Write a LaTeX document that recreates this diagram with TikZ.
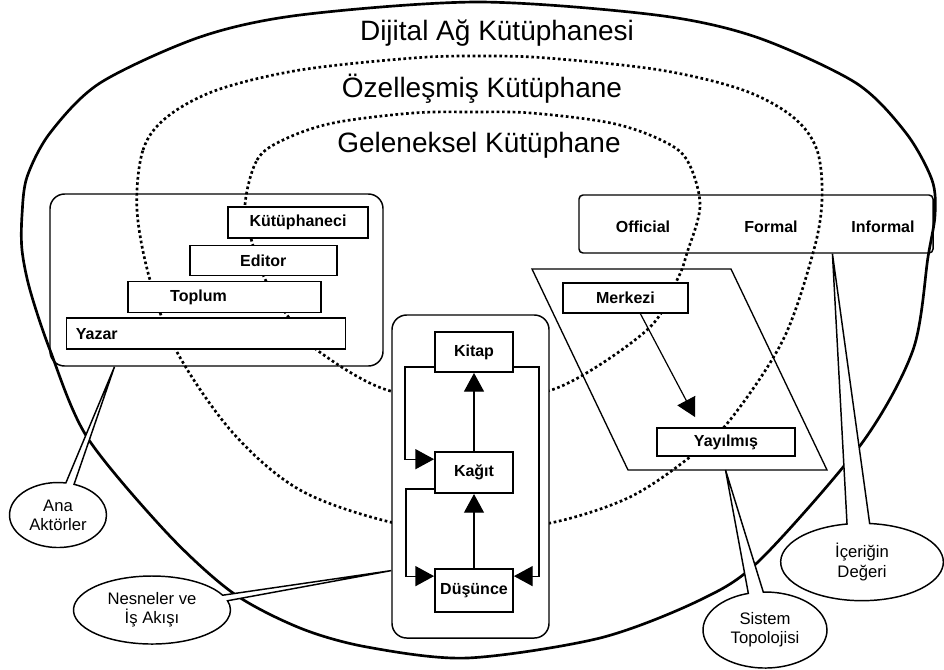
\documentclass[tikz,border=0pt]{standalone}
\usepackage{fontspec}
\setmainfont{Liberation Sans}
\usetikzlibrary{positioning,calc,arrows.meta,shapes.callouts}

\tikzset{
  kutu/.style={draw, line width=1.4pt, fill=white, inner sep=0pt, font=\fontsize{12}{14}\selectfont\bfseries},
  grup/.style={draw, line width=1.1pt, rounded corners=11pt, inner sep=0pt},
  etiket/.style={font=\fontsize{12}{14}\selectfont\bfseries},
  baslik/.style={font=\fontsize{21}{24}\selectfont},
  balon/.style={ellipse callout, draw, line width=1.1pt, fill=white, align=center, inner sep=0pt, font=\fontsize{12.5}{14.5}\selectfont},
  halka/.style={line width=2pt, dash pattern=on 2pt off 2pt},
  akis/.style={line width=0.9pt, -{Triangle[length=14pt,width=15pt]}},
}

\begin{document}
\begin{tikzpicture}[x=0.75pt, y=-0.75pt]
    \useasboundingbox (0,0) rectangle (944,669);

    \draw [line width=2pt] plot [smooth cycle, tension=0.5] coordinates {
        (22,215) (27,177) (50,133) (100,83) (200,37) (300,15) (478,2) (656,15) (756,37) (856,83) (906,133)
        (932,180) (935,215) (928,257) (913,350) (862,443) (760,560) (700,600) (600,638) (467,658) (367,647)
        (300,628) (233,593) (167,533) (87,437) (50,350) (30,290) (22,250)};

    \draw [halka] plot [smooth cycle, tension=0.55] coordinates {
        (137,210) (143,150) (167,117) (217,90) (300,70) (413,58) (480,56) (547,58) (660,70) (743,90)
        (793,117) (817,150) (822,200) (813,253) (783,340) (730,420) (690,457) (630,497) (555,522)
        (472,532) (390,522) (300,490) (233,433) (177,352) (150,280)};

    \draw [halka] plot [smooth cycle, tension=0.55] coordinates {
        (245,205) (257,160) (283,140) (333,123) (413,113) (472,112) (531,113) (611,123) (661,140)
        (687,160) (700,205) (687,253) (677,280) (647,330) (557,388) (472,398) (387,390) (317,350)
        (287,315) (265,279) (252,242)};

    \node [baslik] (dijital)    at (497,33)  {Dijital Ağ Kütüphanesi};
    \node [baslik] (ozel)       at (482,89)  {Özelleşmiş Kütüphane};
    \node [baslik] (geleneksel) at (479,145) {Geleneksel Kütüphane};

    \node [grup] [minimum width=249.75pt] [minimum height=129pt] (aktorler) at (216.5,280) {};

    \node [kutu] [minimum width=105pt] [minimum height=23.25pt] (kutuphaneci) at (298,222.5) {Kütüphaneci};
    \node [kutu] [minimum width=110.25pt] [minimum height=22.5pt] [below of=kutuphaneci] [xshift=-26] (editor) {Editor};
    \node [kutu] [minimum width=144.75pt] [minimum height=23.25pt] [below of=editor] [xshift=-29] [yshift=1]
          [text width=81.75pt] [align=left] (toplum) {Toplum};
    \node [kutu] [minimum width=209.25pt] [minimum height=23.25pt] [below of=toplum] [xshift=-14] [yshift=1]
          [text width=195.25pt] [align=left] (yazar) {Yazar};

    \node [grup] [fill=white] [minimum width=117.75pt] [minimum height=242.25pt] (nesneler) at (470.5,476.5) {};

    \node [kutu] [minimum width=58.5pt] [minimum height=30pt] (kitap) at (474,352) {Kitap};
    \node [kutu] [minimum width=58.5pt] [minimum height=30.75pt] [below of=kitap] [yshift=-62] (kagit) {Kağıt};
    \node [kutu] [minimum width=58.5pt] [minimum height=32.25pt] [below of=kagit] [yshift=-60] (dusunce) {Düşünce};

    \draw [akis] (kagit) -- (kitap);
    \draw [akis] (dusunce) -- (kagit);
    \draw [akis] ($(kitap.south west)+(0,-6)$) -- ++(-29,0) |- ($(kagit.north west)+(0,8)$);
    \draw [akis] ($(kagit.south west)+(0,-5)$) -- ++(-28,0) |- ($(dusunce.north west)+(0,8)$);
    \draw [akis] ($(kitap.south east)+(0,-6)$) -- ++(25,0) |- ($(dusunce.north east)+(0,8)$);

    \node [grup] [rounded corners=3pt] [minimum width=265.5pt] [minimum height=43.5pt] (deger) at (756,224) {};
    \node [etiket] (official) at (643,227) {Official};
    \node [etiket] (formal)   at (771,227) {Formal};
    \node [etiket] (informal) at (883,227) {Informal};

    \coordinate (p1) at (532,269);
    \coordinate (p2) at (731,269);
    \coordinate (p3) at (827,470);
    \coordinate (p4) at (628,470);
    \draw [line width=1pt] (p1) -- (p2) -- (p3) -- (p4) -- cycle;

    \node [kutu] [minimum width=93.75pt] [minimum height=22.5pt] (merkezi) at (625.5,298) {Merkezi};
    \node [kutu] [minimum width=103.5pt] [minimum height=21pt] (yayilmis) at (726,442) {Yayılmış};

    \draw [akis] ($(merkezi.south)+(15,0)$) -- ($(yayilmis.north)+(-31,-10)$);

    \node [balon] [minimum width=72.75pt] [minimum height=48.75pt] [callout pointer arc=10]
          [callout absolute pointer={($(aktorler.south west)!0.195!(aktorler.south east)$)}]
          (anaaktor) at (58,515) {Ana\\Aktörler};
    \node [balon] [minimum width=117.75pt] [minimum height=51pt] [callout pointer arc=10]
          [callout absolute pointer={($(nesneler.north west)!0.79!(nesneler.south west)$)}]
          (isakisi) at (152,610) {Nesneler ve\\İş Akışı};
    \node [balon] [minimum width=93pt] [minimum height=57pt] [callout pointer arc=14]
          [callout absolute pointer={($(p4)!0.49!(p3)$)}]
          (topoloji) at (765,630) {Sistem\\Topolojisi};
    \node [balon] [minimum width=122pt] [minimum height=58pt] [callout pointer arc=16]
          [callout absolute pointer={($(deger.south west)!0.715!(deger.south east)$)}]
          (icerik) at (862,562) {İçeriğin\\Değeri};

\end{tikzpicture}
\end{document}
